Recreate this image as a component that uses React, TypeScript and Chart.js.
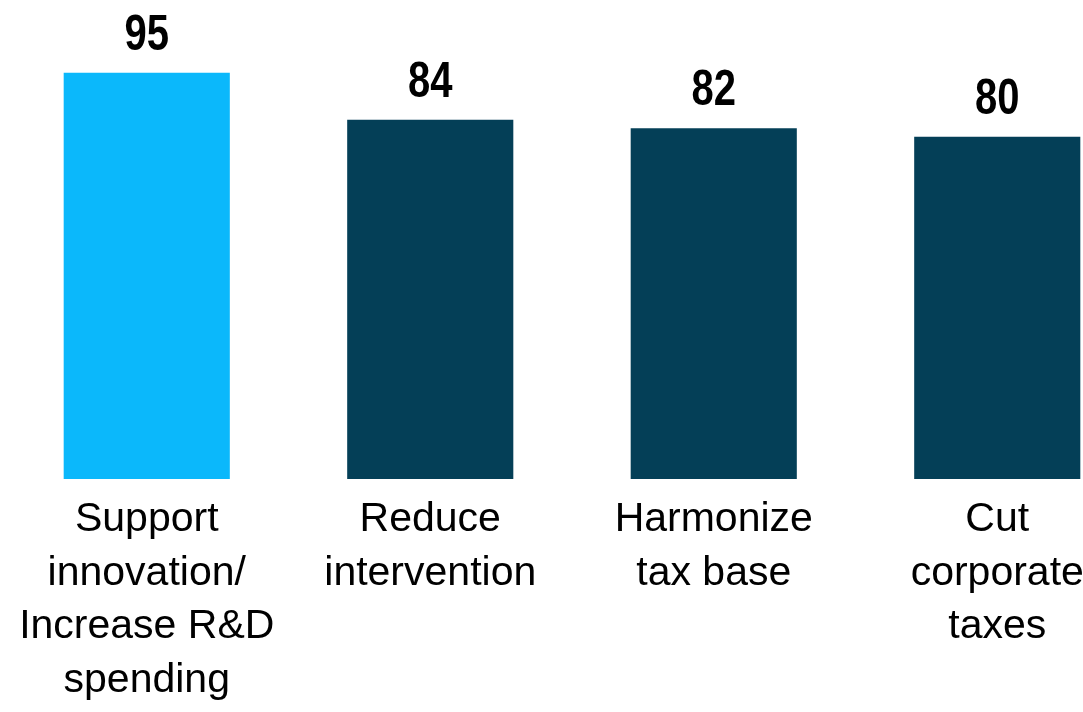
import React, { useEffect, useRef } from "react";
import { Chart, registerables } from "chart.js";

Chart.register(...registerables);

const categories: string[][] = [
  ["Support", "innovation/", "Increase R&D", "spending"],
  ["Reduce", "intervention"],
  ["Harmonize", "tax base"],
  ["Cut", "corporate", "taxes"],
];
const values: number[] = [95, 84, 82, 80];
const barColors: string[] = ["#0BB8FB", "#043F57", "#043F57", "#043F57"];

const FONT = "'Liberation Sans', Arial, sans-serif";

const valueLabels = {
  id: "valueLabels",
  afterDatasetsDraw(chart: any) {
    const ctx = chart.ctx;
    const meta = chart.getDatasetMeta(0);
    meta.data.forEach((bar: any, i: number) => {
      ctx.save();
      ctx.font = `bold 50px ${FONT}`;
      ctx.fillStyle = "#000000";
      ctx.textAlign = "center";
      ctx.textBaseline = "alphabetic";
      ctx.translate(bar.x, bar.y - 23);
      ctx.scale(0.8, 1);
      ctx.fillText(String(values[i]), 0, 0);
      ctx.restore();
    });
  },
};

export default function App() {
  const ref = useRef<HTMLCanvasElement | null>(null);
  useEffect(() => {
    document.body.style.margin = "0";
    document.body.style.overflow = "hidden";
    const chart = new Chart(ref.current as HTMLCanvasElement, {
      type: "bar",
      data: {
        labels: categories,
        datasets: [
          {
            data: values,
            backgroundColor: barColors,
            borderWidth: 0,
            barPercentage: 0.586,
            categoryPercentage: 1,
          },
        ],
      },
      options: {
        animation: false,
        responsive: false,
        maintainAspectRatio: false,
        layout: { padding: { top: 0, left: 5, right: 0, bottom: 0 } },
        plugins: {
          legend: { display: false },
          tooltip: { enabled: false },
          title: { display: false },
        },
        scales: {
          x: {
            grid: { display: false, drawTicks: false },
            border: { display: false },
            ticks: {
              color: "#000000",
              padding: 14,
              maxRotation: 0,
              autoSkip: false,
              font: { family: FONT, size: 41, lineHeight: 53.5 / 41 },
            },
          },
          y: {
            display: false,
            min: 0,
            max: 112,
          },
        },
      },
      plugins: [valueLabels],
    });
    return () => chart.destroy();
  }, []);
  return (
    <div style={{ width: 1139, height: 721, overflow: "hidden" }}>
      <canvas ref={ref} width={1139} height={721} style={{ display: "block" }} />
    </div>
  );
}
